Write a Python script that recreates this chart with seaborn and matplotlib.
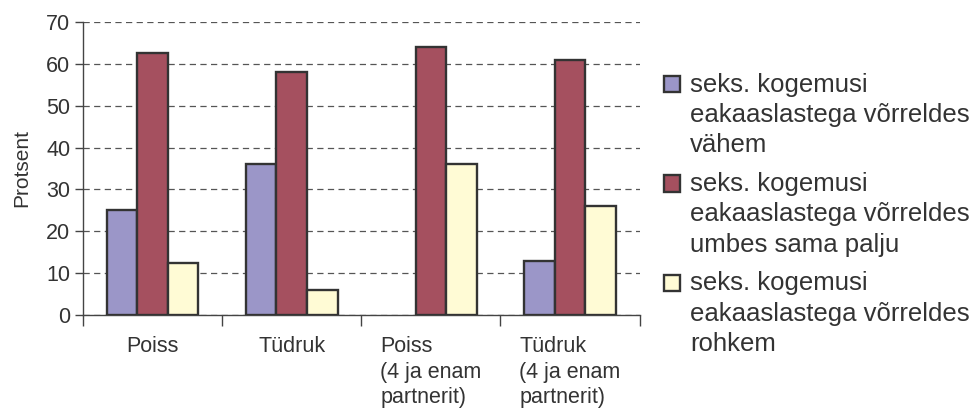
import matplotlib
matplotlib.use("Agg")
import matplotlib.pyplot as plt
import seaborn as sns
import pandas as pd
from matplotlib.patches import Rectangle
from matplotlib.legend_handler import HandlerPatch

categories = ["Poiss", "Tüdruk", "Poiss\n(4 ja enam\npartnerit)", "Tüdruk\n(4 ja enam\npartnerit)"]
series_names = [
    "seks. kogemusi\neakaaslastega võrreldes\nvähem",
    "seks. kogemusi\neakaaslastega võrreldes\numbes sama palju",
    "seks. kogemusi\neakaaslastega võrreldes\nrohkem",
]
vahem = [25, 36, 0, 13]
sama = [62.5, 58, 64, 61]
rohkem = [12.5, 6, 36, 26]
colors = ["#9B96C8", "#A5505F", "#FFFBD5"]
y_ticks = [0, 10, 20, 30, 40, 50, 60, 70]

rows = []
for name, vals in zip(series_names, [vahem, sama, rohkem]):
    for c, v in zip(categories, vals):
        rows.append({"cat": c, "series": name, "value": v})
df = pd.DataFrame(rows)

sns.set_theme(style="white")
plt.rcParams["font.family"] = ["Liberation Sans", "DejaVu Sans"]
text_color = "#333333"
edge_color = "#333333"

fig = plt.figure(figsize=(9.73, 4.09), dpi=100)
ax = fig.add_axes([0.0853, 0.2298, 0.572, 0.7165])

sns.barplot(data=df, x="cat", y="value", hue="series", order=categories,
            hue_order=series_names, palette=colors, width=0.66,
            edgecolor=edge_color, linewidth=1.7, saturation=1, ax=ax, zorder=3)

# hide outline of zero-height bars
for p in ax.patches:
    if abs(p.get_height()) < 1e-9:
        p.set_linewidth(0)

ax.set_ylim(0, 70)
ax.set_xlim(-0.5, len(categories) - 0.5)
ax.set_yticks(y_ticks)
ax.set_yticklabels([str(t) for t in y_ticks])
ax.yaxis.grid(True, linestyle=(0, (5, 3.5)), color="#555555", linewidth=0.9, zorder=0)
ax.set_axisbelow(True)
ax.xaxis.grid(False)

for s in ["top", "right"]:
    ax.spines[s].set_visible(False)
for s in ["left", "bottom"]:
    ax.spines[s].set_color("#444444")
    ax.spines[s].set_linewidth(1.0)

ax.set_xticks(range(len(categories)))
ax.set_xticklabels(categories, multialignment="left", linespacing=1.3)
ax.set_xticks([i - 0.5 for i in range(len(categories) + 1)], minor=True)
ax.tick_params(axis="x", which="major", length=0, pad=15, labelsize=15.5, labelcolor=text_color)
ax.tick_params(axis="x", which="minor", length=8, width=1, color="#444444", direction="out", bottom=True)
ax.tick_params(axis="y", length=6, width=1, color="#444444", direction="out", left=True,
               labelsize=15.5, labelcolor=text_color, pad=3)
ax.set_xlabel("")
ax.set_ylabel("Protsent", fontsize=15, color=text_color, labelpad=11)

LEG_FS = 18.5
LINE_PT = 22.5


class TopHandler(HandlerPatch):
    def create_artists(self, legend, orig_handle, xdescent, ydescent, width, height,
                       fontsize, trans):
        p = Rectangle((-xdescent, -ydescent + LINE_PT), width, height)
        self.update_prop(p, orig_handle, legend)
        p.set_edgecolor(edge_color)
        p.set_linewidth(1.7)
        p.set_transform(trans)
        return [p]


handles, labels = ax.get_legend_handles_labels()
ax.get_legend().remove()
leg = fig.legend(handles, labels, loc="upper left", bbox_to_anchor=(0.669, 0.854),
                 frameon=False, fontsize=LEG_FS, handlelength=0.62, handleheight=0.62,
                 handletextpad=0.4, labelspacing=0.58, borderpad=0, labelcolor=text_color,
                 handler_map={Rectangle: TopHandler()})
for t in leg.get_texts():
    t.set_linespacing(1.33)

fig.savefig("out.png", dpi=100)
